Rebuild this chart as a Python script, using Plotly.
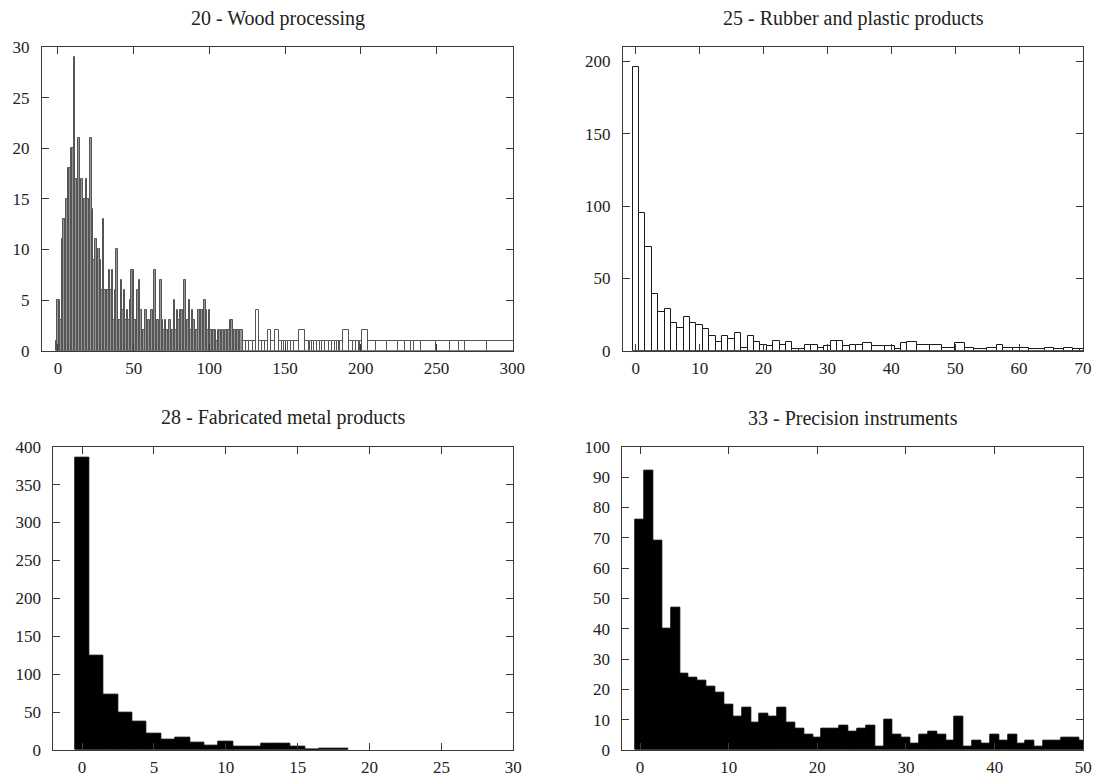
import plotly.graph_objects as go

# ---- 20 - Wood processing: counts per value (consecutive values -1..121, then sparse tail)
wood_dense_start = -1
wood_dense_counts = [
    1, 5, 5, 3, 11, 13, 13, 15, 18, 18, 20, 20, 29, 17, 15, 21, 15, 17, 15, 15,
    17, 15, 15, 21, 14, 9, 11, 9, 10, 9, 6, 13, 6, 6, 6, 8, 6, 8, 3, 6,
    10, 3, 3, 7, 4, 6, 3, 4, 3, 5, 8, 8, 3, 3, 6, 7, 4, 2, 2, 4,
    2, 3, 2, 4, 3, 8, 3, 3, 2, 7, 3, 2, 3, 2, 2, 3, 2, 2, 5, 2,
    4, 3, 4, 4, 2, 7, 3, 3, 5, 2, 4, 3, 2, 2, 4, 4, 4, 4, 5, 4,
    2, 4, 2, 2, 2, 2, 1, 2, 2, 1, 2, 1, 2, 2, 2, 3, 3, 2, 2, 2,
    2, 2, 2,
]
wood_tail_x = [123, 125, 128, 130, 132, 134, 136, 137, 140, 142,
               145, 147, 149, 150, 151, 153, 155, 157, 161, 165,
               166, 167, 168, 170, 172, 174, 175, 178, 180, 182,
               184, 185, 186, 187, 190, 194, 196, 198, 199, 200,
               202, 207, 213, 222, 227, 232, 234, 236, 244, 255,
               263, 267, 270, 296]
wood_tail_counts = [1, 1, 1, 1, 4, 1, 1, 1, 2, 1,
                    2, 1, 1, 1, 1, 1, 1, 1, 2, 1,
                    1, 1, 1, 1, 1, 1, 1, 1, 1, 1,
                    1, 1, 1, 1, 2, 1, 1, 1, 1, 1,
                    2, 1, 1, 1, 1, 1, 1, 1, 1, 1,
                    1, 1, 1, 1]

# ---- 25 - Rubber and plastic products
rubber_x = list(range(0, 37)) + [38, 40, 41, 42, 43, 45, 47, 49, 51, 52,
                                 54, 56, 57, 58, 60, 63, 65, 66, 68, 69, 70]
rubber_counts = [196, 95, 72, 39, 27, 29, 19, 16, 23, 19,
                 18, 15, 10, 6, 10, 8, 12, 2, 10, 6,
                 4, 3, 7, 4, 6, 1, 1, 4, 4, 2,
                 3, 7, 7, 3, 4, 4, 5,
                 3, 3, 1, 5, 6, 4, 4, 2, 5, 2,
                 1, 2, 4, 2, 2, 1, 2, 1, 2, 1, 1]

# ---- 28 - Fabricated metal products
metal_x = list(range(0, 19))
metal_counts = [386, 125, 73, 49, 37, 21, 13, 16, 10, 6,
                11, 4, 5, 8, 8, 4, 0, 2, 2]

# ---- 33 - Precision instruments
precision_x = list(range(0, 51))
precision_counts = [76, 92, 69, 40, 47, 25, 24, 23, 21, 19,
                    15, 11, 14, 9, 12, 11, 14, 9, 7, 5,
                    4, 7, 7, 8, 6, 7, 8, 1, 10, 5,
                    4, 2, 5, 6, 5, 3, 11, 1, 3, 2,
                    5, 3, 5, 2, 3, 1, 3, 3, 4, 4, 3]

titles = ["20 - Wood processing", "25 - Rubber and plastic products",
          "28 - Fabricated metal products", "33 - Precision instruments"]


def box_geometry(xs):
    """Boxes spanning halfway to each neighbour (gnuplot-style autowidth)."""
    centers, widths = [], []
    n = len(xs)
    for i, x in enumerate(xs):
        left = (xs[i - 1] + x) / 2 if i > 0 else x - (xs[1] - x) / 2
        right = (x + xs[i + 1]) / 2 if i < n - 1 else x + (x - xs[i - 1]) / 2
        centers.append((left + right) / 2)
        widths.append(right - left)
    return centers, widths


W, H = 1096, 780

wood_dense_x = list(range(wood_dense_start, wood_dense_start + len(wood_dense_counts)))
wood_x = wood_dense_x + wood_tail_x
wood_counts = wood_dense_counts + wood_tail_counts
# densely packed boxes read as grey, the sparse tail as open boxes
wood_fill = ["#969696"] * len(wood_dense_x) + ["white"] * len(wood_tail_x)

panels = [
    dict(x=wood_x, y=wood_counts, fill=wood_fill, line="#555555",
         xr=[-10.5, 300.5], yr=[0, 30], xt=list(range(0, 301, 50)), yt=list(range(0, 31, 5)),
         px=(42, 513), py=(47, 350.7)),
    dict(x=rubber_x, y=rubber_counts, fill="white", line="#1a1a1a",
         xr=[-2, 70], yr=[0, 210], xt=list(range(0, 71, 10)), yt=list(range(0, 201, 50)),
         px=(623, 1083), py=(47, 350.7)),
    dict(x=metal_x, y=metal_counts, fill="black", line="black",
         xr=[-2, 30], yr=[0, 400], xt=list(range(0, 31, 5)), yt=list(range(0, 401, 50)),
         px=(53.3, 513.3), py=(446.7, 750)),
    dict(x=precision_x, y=precision_counts, fill="black", line="black",
         xr=[-2, 50], yr=[0, 100], xt=list(range(0, 51, 10)), yt=list(range(0, 101, 10)),
         px=(622.3, 1083.3), py=(446.7, 750)),
]

fig = go.Figure()
serif = "Liberation Serif, Times New Roman, serif"
axis_font = dict(family=serif, size=17, color="#222222")
frame = "#3a3a3a"

for i, p in enumerate(panels, start=1):
    suffix = "" if i == 1 else str(i)
    centers, widths = box_geometry(p["x"])
    fig.add_trace(go.Bar(
        x=centers, y=p["y"], width=widths, base=0,
        marker=dict(color=p["fill"], line=dict(color=p["line"], width=1)),
        xaxis="x" + suffix, yaxis="y" + suffix, showlegend=False,
        hoverinfo="x+y",
    ))
    xdom = [p["px"][0] / W, p["px"][1] / W]
    ydom = [1 - p["py"][1] / H, 1 - p["py"][0] / H]
    common = dict(showline=True, linecolor=frame, linewidth=1, mirror="ticks",
                  ticks="inside", ticklen=7, tickcolor=frame, tickwidth=1,
                  showgrid=False, zeroline=False, tickfont=axis_font,
                  automargin=False)
    fig.layout["xaxis" + suffix] = dict(
        domain=xdom, range=p["xr"], tickvals=p["xt"], anchor="y" + suffix,
        ticklabelstandoff=2, **common)
    fig.layout["yaxis" + suffix] = dict(
        domain=ydom, range=p["yr"], tickvals=p["yt"], anchor="x" + suffix,
        ticklabelstandoff=8, **common)
    fig.add_annotation(
        text=titles[i - 1], xref="paper", yref="paper",
        x=(xdom[0] + xdom[1]) / 2, y=1 - (p["py"][0] - 29) / H,
        xanchor="center", yanchor="middle", showarrow=False,
        font=dict(family=serif, size=20, color="#222222"),
    )

fig.update_layout(
    width=W, height=H,
    margin=dict(l=0, r=0, t=0, b=0, pad=0, autoexpand=False),
    paper_bgcolor="white", plot_bgcolor="white", bargap=0,
)

fig.write_html("out.html")
